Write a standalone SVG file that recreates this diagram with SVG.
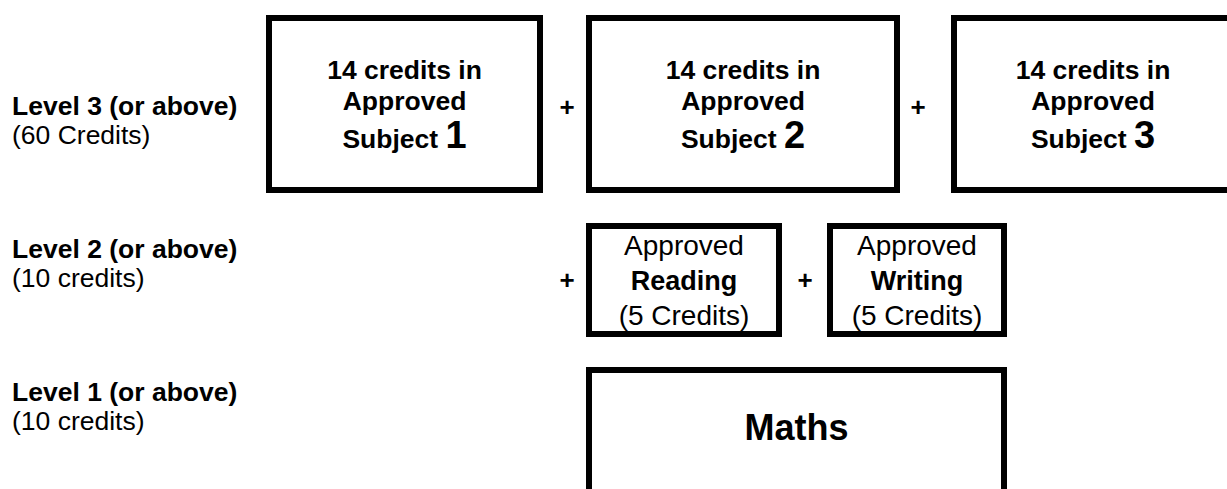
<svg xmlns="http://www.w3.org/2000/svg" width="1227" height="489" viewBox="0 0 1227 489">
<style>
text{font-family:"Liberation Sans",Arial,sans-serif;fill:#000}
.box{fill:#fff;stroke:#000;stroke-width:6}
.lb{font-size:26.5px;font-weight:bold}
.lr{font-size:26.5px}
.bt{font-size:26.5px;font-weight:bold;text-anchor:middle}
.big{font-size:38px;font-weight:bold}
.rt{font-size:28px;text-anchor:middle}
.rb{font-size:27px;font-weight:bold;text-anchor:middle}
.plus{font-size:26px;font-weight:bold;text-anchor:middle}
</style>
<rect width="1227" height="489" fill="#fff"/>
<g id="labels">
<text class="lb" x="12" y="115">Level 3 (or above)</text>
<text class="lr" x="12" y="144">(60 Credits)</text>
<text class="lb" x="12" y="258">Level 2 (or above)</text>
<text class="lr" x="12" y="287">(10 credits)</text>
<text class="lb" x="12" y="401">Level 1 (or above)</text>
<text class="lr" x="12" y="430">(10 credits)</text>
</g>
<g id="subject1">
<rect class="box" x="269" y="18" width="271" height="172"/>
<text class="bt" x="404.5" y="79">14 credits in</text>
<text class="bt" x="404.5" y="110">Approved</text>
<text class="bt" x="404.5" y="148">Subject <tspan class="big">1</tspan></text>
</g>
<g id="subject2">
<rect class="box" x="589" y="18" width="308" height="172"/>
<text class="bt" x="743" y="79">14 credits in</text>
<text class="bt" x="743" y="110">Approved</text>
<text class="bt" x="743" y="148">Subject <tspan class="big">2</tspan></text>
</g>
<g id="subject3">
<rect class="box" x="954" y="18" width="400" height="172"/>
<text class="bt" x="1093" y="79">14 credits in</text>
<text class="bt" x="1093" y="110">Approved</text>
<text class="bt" x="1093" y="148">Subject <tspan class="big">3</tspan></text>
</g>
<g id="reading">
<rect class="box" x="589" y="226" width="190" height="108"/>
<text class="rt" x="684" y="255">Approved</text>
<text class="rb" x="684" y="290">Reading</text>
<text class="rt" x="684" y="325">(5 Credits)</text>
</g>
<g id="writing">
<rect class="box" x="830" y="226" width="174" height="108"/>
<text class="rt" x="917" y="255">Approved</text>
<text class="rb" x="917" y="290">Writing</text>
<text class="rt" x="917" y="325">(5 Credits)</text>
</g>
<g id="maths">
<rect class="box" x="589" y="370" width="415" height="200"/>
<text x="796.5" y="440" font-size="36" font-weight="bold" text-anchor="middle">Maths</text>
</g>
<g id="connectors">
<text class="plus" x="567" y="116">+</text>
<text class="plus" x="918" y="116">+</text>
<text class="plus" x="567" y="289">+</text>
<text class="plus" x="805" y="289">+</text>
</g>
</svg>
